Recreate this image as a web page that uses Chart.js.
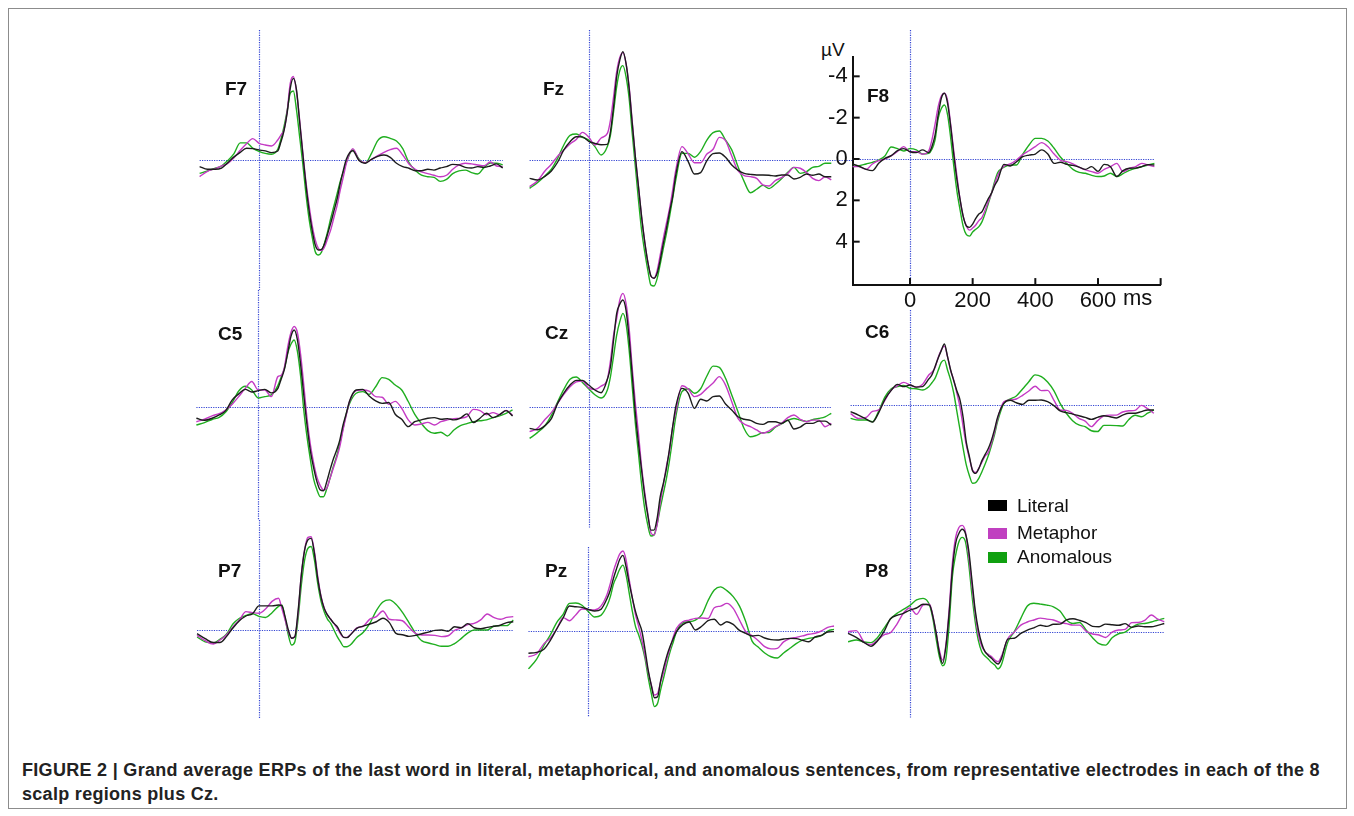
<!DOCTYPE html>
<html>
<head>
<meta charset="utf-8">
<title>Grand average ERPs</title>
<script src="https://cdn.jsdelivr.net/npm/chart.js@4.4.0/dist/chart.umd.min.js"></script>
<style>
  body { margin: 0; background: #fff; font-family: "Liberation Sans", Arial, sans-serif; }
  #page { position: relative; width: 1354px; height: 816px; overflow: hidden; background: #fff; }
  #frame { position: absolute; left: 8px; top: 8px; width: 1339px; height: 801px; box-sizing: border-box; border: 1px solid #8c8c8c; }
  canvas.layer { position: absolute; left: 0; top: 0; pointer-events: none; }
  .elec { position: absolute; font-weight: bold; font-size: 19px; line-height: 19px; color: #111; }
  .unit { position: absolute; left: 821px; top: 40px; font-size: 19px; line-height: 19px; color: #111; }
  .key { position: absolute; width: 19px; height: 11px; left: 988px; }
  .keytext { position: absolute; left: 1017px; font-size: 19px; line-height: 19px; color: #111; }
  #caption { position: absolute; left: 22px; top: 758px; font-size: 18px; letter-spacing: 0.3px; line-height: 24px; font-weight: bold; color: #222; white-space: nowrap; }
</style>
</head>
<body>
<div id="page">
  <div id="frame"></div>
  <div class="unit">µV</div>
  <div id="caption">FIGURE 2 | Grand average ERPs of the last word in literal, metaphorical, and anomalous sentences, from representative electrodes in each of the 8<br>scalp regions plus Cz.</div>
</div>
<script>
// time points (ms) shared by every trace
const times = [-190,-165,-140,-120,-100,-80,-60,-40,-20,0,20,40,
  60,70,80,90,100,110,120,130,140,150,160,170,180,190,200,210,220,230,240,250,260,270,280,
  300,320,340,360,380,400,420,440,460,480,500,520,540,560,580,600,620,640,660,680,700,720,740,760,780];

const conditions = ['Literal', 'Metaphor', 'Anomalous'];
const lineColors = ['#1c1c1c', '#c43ac4', '#1fae1f'];
const keyColors = ['#000000', '#c040c0', '#10a010'];

// amplitudes in µV (negative plotted up)
const f7Literal = [0.32,0.45,0.45,0.39,0.13,-0.15,-0.37,-0.57,-0.55,-0.49,-0.44,-0.36,
  -0.44,-0.87,-1.42,-2.27,-3.48,-3.96,-3.40,-1.86,-0.32,1.17,2.43,3.40,4.13,4.37,4.34,4.05,3.56,3.04,2.46,1.88,1.13,0.49,-0.06,
  -0.45,0.02,0.16,-0.03,-0.18,-0.24,-0.13,0.16,0.32,0.40,0.52,0.52,0.45,0.49,0.39,0.32,0.21,0.24,0.36,0.39,0.32,0.36,0.29,0.19,0.39];
const f7Metaphor = [0.81,0.55,0.42,0.29,0.16,-0.11,-0.47,-0.79,-1.04,-0.81,-0.73,-0.68,
  -0.97,-1.21,-1.46,-2.35,-3.72,-4.05,-3.32,-1.94,-0.40,1.02,2.18,3.16,3.88,4.29,4.40,4.21,3.80,3.37,2.78,2.20,1.46,0.81,0.13,
  -0.55,0.00,0.13,-0.03,-0.21,-0.37,-0.50,-0.57,-0.24,0.19,0.45,0.58,0.66,0.74,0.81,0.74,0.45,0.24,0.16,0.19,0.24,0.28,0.10,0.29,0.32];
const f7Anomalous = [0.65,0.53,0.40,0.29,0.03,-0.31,-0.83,-0.83,-0.58,-0.42,-0.32,-0.28,
  -0.52,-1.00,-1.62,-2.38,-3.24,-3.35,-2.43,-1.13,0.16,1.62,2.83,3.72,4.45,4.61,4.47,4.01,3.45,2.80,2.22,1.63,1.04,0.57,0.10,
  -0.49,-0.05,0.15,-0.32,-0.94,-1.13,-1.05,-0.92,-0.55,0.13,0.50,0.74,0.81,0.84,1.04,0.94,0.66,0.53,0.49,0.61,0.68,0.37,0.15,0.15,0.24];

const fzLiteral = [0.89,0.97,0.78,0.53,0.11,-0.49,-0.89,-1.13,-1.12,-0.91,-0.81,-0.74,
  -0.76,-1.38,-2.59,-4.05,-4.85,-5.26,-4.69,-3.48,-1.78,-0.16,1.29,2.75,3.96,4.94,5.63,5.74,5.50,4.85,4.05,3.32,2.51,1.78,0.73,
  -0.40,0.08,0.68,0.61,0.03,-0.31,-0.34,-0.13,0.24,0.49,0.65,0.70,0.73,0.73,0.74,0.78,0.73,0.73,0.92,0.84,0.68,0.74,0.68,0.81,0.81];
const fzMetaphor = [1.29,1.02,0.52,0.21,-0.19,-0.49,-0.78,-1.00,-1.34,-1.12,-0.73,-1.07,
  -1.29,-1.94,-3.07,-4.29,-4.98,-5.21,-4.69,-3.56,-1.86,-0.16,1.29,2.75,3.96,4.94,5.63,5.74,5.37,4.61,3.80,3.07,2.35,1.46,0.49,
  -0.65,-0.29,0.13,0.13,-0.29,-0.52,-1.10,-0.94,-0.19,0.52,0.76,0.81,0.89,1.21,1.26,1.00,0.86,0.65,0.36,0.40,0.60,0.89,1.00,0.81,0.97];
const fzAnomalous = [1.38,1.10,0.76,0.45,-0.08,-0.73,-1.20,-1.26,-1.10,-0.97,-0.65,-0.24,
  -0.65,-1.21,-2.35,-3.56,-4.34,-4.58,-4.05,-2.99,-1.29,0.32,1.94,3.40,4.45,5.34,6.07,6.12,5.76,5.05,4.29,3.56,2.75,1.86,0.97,
  -0.32,-0.32,-0.13,-0.42,-0.97,-1.33,-1.41,-0.97,-0.49,0.32,1.05,1.59,1.42,1.23,1.39,1.18,0.91,0.60,0.36,0.65,0.57,0.36,0.31,0.16,0.16];

const f8Literal = [0.21,0.34,0.50,0.56,0.21,-0.03,-0.16,-0.40,-0.50,-0.35,-0.31,-0.44,
  -0.31,-0.60,-1.16,-2.13,-2.94,-3.18,-2.69,-1.56,-0.19,1.02,1.98,2.79,3.24,3.31,3.15,2.87,2.66,2.55,2.23,1.92,1.66,1.29,1.02,
  0.26,0.34,0.13,-0.11,-0.19,-0.24,-0.44,-0.24,0.21,0.16,0.26,0.31,0.39,0.50,0.37,0.60,0.26,0.37,0.85,0.56,0.45,0.44,0.37,0.27,0.29];
const f8Metaphor = [0.37,0.37,0.50,0.24,0.08,0.00,-0.15,-0.37,-0.60,-0.35,-0.35,-0.23,
  -0.40,-0.92,-1.69,-2.53,-3.05,-3.18,-2.82,-1.65,-0.35,0.85,1.98,2.79,3.24,3.44,3.34,3.19,2.98,2.82,2.47,2.06,1.66,1.21,0.79,
  0.34,0.24,0.05,-0.21,-0.40,-0.60,-0.79,-0.60,-0.24,0.06,0.13,0.24,0.40,0.53,0.61,0.69,0.50,0.37,0.21,0.61,0.45,0.37,0.21,0.29,0.37];
const f8Anomalous = [0.37,0.34,0.24,0.16,0.05,-0.15,-0.58,-0.50,-0.39,-0.50,-0.44,-0.24,
  -0.27,-0.47,-0.92,-1.97,-2.44,-2.61,-2.13,-1.00,0.37,1.58,2.47,3.27,3.66,3.73,3.53,3.40,3.27,3.03,2.63,2.15,1.66,1.10,0.66,
  0.40,0.29,0.29,-0.23,-0.68,-1.00,-1.00,-0.87,-0.52,-0.10,0.21,0.50,0.65,0.69,0.79,0.85,0.82,0.69,0.85,0.71,0.55,0.45,0.37,0.29,0.21];

const c5Literal = [0.53,0.63,0.52,0.37,0.16,-0.36,-0.65,-0.87,-0.74,-0.81,-0.87,-0.70,
  -0.92,-1.36,-1.84,-2.62,-3.43,-3.75,-3.27,-2.06,-0.52,0.94,2.14,2.95,3.62,4.01,4.05,3.61,3.04,2.52,2.10,1.59,0.86,0.29,-0.31,
  -0.84,-0.87,-0.55,-0.31,-0.19,-0.23,0.34,0.58,0.94,0.70,0.61,0.53,0.50,0.58,0.55,0.61,0.52,0.32,0.74,0.53,0.29,0.50,0.36,0.16,0.42];
const c5Metaphor = [0.70,0.58,0.40,0.31,0.13,-0.15,-0.52,-0.92,-1.25,-0.84,-0.84,-0.52,
  -1.49,-1.55,-1.94,-2.91,-3.62,-3.92,-3.62,-2.54,-1.00,0.61,1.84,2.72,3.40,3.80,4.01,3.92,3.45,2.96,2.48,1.91,1.10,0.37,-0.28,
  -0.81,-0.84,-0.79,-0.52,-0.49,-0.15,-0.29,0.05,0.61,0.86,0.81,0.73,0.86,0.70,0.61,0.55,0.53,0.45,0.10,0.16,0.36,0.26,0.36,0.15,0.39];
const c5Anomalous = [0.86,0.74,0.58,0.49,0.23,-0.23,-0.79,-1.02,-0.84,-0.45,-0.52,-0.60,
  -1.05,-1.46,-1.89,-2.62,-3.06,-3.27,-2.72,-1.49,0.21,1.50,2.56,3.50,4.01,4.34,4.34,3.96,3.45,2.88,2.39,1.75,1.02,0.32,-0.19,
  -0.68,-0.76,-0.63,-1.00,-1.44,-1.36,-1.08,-0.84,-0.28,0.34,0.78,1.13,1.26,1.21,1.39,1.10,0.89,0.79,0.70,0.65,0.61,0.50,0.42,0.29,0.13];

const czLiteral = [1.05,1.12,0.91,0.58,-0.16,-0.66,-1.05,-1.28,-1.28,-1.05,-0.81,-0.68,
  -1.33,-1.94,-3.24,-4.53,-4.98,-5.18,-4.69,-3.32,-1.54,0.32,1.78,3.07,4.29,5.26,5.99,5.99,5.42,4.37,3.72,2.99,2.02,0.97,0.00,
  -0.89,-0.65,0.08,-0.36,-0.28,-0.49,-0.52,-0.13,0.16,0.49,0.61,0.66,0.81,0.86,0.73,0.73,0.81,0.66,1.08,0.99,0.81,0.81,0.70,0.70,0.89];
const czMetaphor = [1.21,1.05,0.61,0.29,-0.16,-0.60,-0.97,-1.20,-1.25,-0.91,-0.84,-1.00,
  -1.34,-2.23,-3.48,-4.29,-5.18,-5.50,-5.02,-3.80,-1.86,-0.16,1.29,2.91,4.13,5.18,6.12,6.23,5.71,4.66,3.80,2.88,2.14,0.97,0.24,
  -1.02,-0.86,-0.49,-0.60,-0.89,-1.15,-1.46,-1.05,-0.24,0.57,0.84,0.97,1.13,1.29,1.17,0.97,0.81,0.53,0.40,0.61,0.73,0.65,0.65,0.97,0.81];
const czAnomalous = [1.54,1.26,0.91,0.42,-0.23,-0.84,-1.33,-1.44,-1.18,-0.87,-0.58,-0.42,
  -0.81,-1.46,-2.46,-3.48,-4.13,-4.53,-4.05,-2.75,-0.97,0.81,2.27,3.75,4.94,5.75,6.28,6.23,5.71,4.92,4.21,3.48,2.59,1.54,0.49,
  -0.73,-0.87,-0.65,-0.87,-1.49,-1.97,-1.91,-1.38,-0.57,0.24,1.07,1.46,1.39,1.26,1.25,1.00,0.83,0.66,0.57,0.65,0.71,0.63,0.57,0.49,0.32];

const c6Literal = [0.32,0.49,0.68,0.83,0.37,-0.28,-0.71,-1.00,-0.89,-0.97,-0.87,-0.89,
  -1.26,-1.46,-1.86,-2.27,-2.64,-2.96,-2.35,-1.70,-1.18,-0.68,-0.24,0.61,1.80,2.51,3.19,3.32,3.09,2.70,2.41,2.12,1.73,1.21,0.60,
  -0.08,-0.23,-0.11,-0.03,-0.23,-0.23,-0.24,-0.16,0.03,0.28,0.37,0.44,0.52,0.60,0.70,0.60,0.52,0.57,0.63,0.49,0.40,0.40,0.32,0.24,0.24];
const c6Metaphor = [0.42,0.65,0.60,0.31,0.24,-0.24,-0.73,-0.94,-1.10,-0.97,-0.87,-1.00,
  -1.46,-1.59,-1.81,-2.31,-2.67,-2.86,-2.35,-1.67,-1.21,-0.57,0.11,1.05,1.94,2.59,3.16,3.28,3.07,2.77,2.48,2.31,1.86,1.33,0.68,
  -0.16,-0.24,-0.29,-0.47,-0.68,-0.91,-0.70,-0.71,-0.24,0.24,0.26,0.40,0.65,0.78,1.05,0.76,0.53,0.49,0.49,0.34,0.28,0.26,0.02,0.18,0.40];
const c6Anomalous = [0.65,0.73,0.73,0.81,0.29,-0.39,-0.79,-0.89,-0.95,-0.81,-0.79,-0.73,
  -0.89,-1.08,-1.29,-1.67,-2.07,-2.18,-1.70,-1.21,-0.57,0.32,1.21,2.10,2.91,3.43,3.80,3.77,3.56,3.24,2.88,2.48,1.99,1.46,0.81,
  -0.08,-0.29,-0.44,-0.78,-1.13,-1.46,-1.38,-1.12,-0.70,-0.08,0.40,0.76,0.97,1.05,1.25,1.29,0.99,0.99,1.00,1.02,0.70,0.50,0.57,0.40,0.24];

const p7Literal = [0.18,0.42,0.61,0.61,0.32,-0.10,-0.45,-0.68,-0.79,-1.17,-1.17,-1.17,
  -1.21,-1.18,-0.65,0.00,0.40,0.32,-0.94,-2.69,-3.88,-4.37,-4.45,-3.72,-2.51,-1.62,-1.05,-0.73,-0.52,-0.32,-0.16,0.13,0.36,0.37,0.24,
  -0.08,-0.19,-0.29,-0.40,-0.57,-0.36,0.16,0.23,0.31,0.26,0.18,0.10,0.02,0.00,0.06,-0.16,-0.11,-0.31,-0.11,-0.06,-0.13,-0.18,-0.23,-0.36,-0.40];
const p7Metaphor = [0.26,0.52,0.68,0.49,0.24,-0.15,-0.49,-0.89,-0.84,-0.81,-1.02,-1.39,
  -1.54,-1.05,-0.49,0.08,0.39,0.32,-0.81,-2.71,-3.91,-4.50,-4.53,-3.80,-2.62,-1.65,-1.07,-0.73,-0.52,-0.31,-0.08,0.19,0.36,0.36,0.23,
  -0.10,-0.19,-0.53,-0.65,-0.92,-0.52,-0.49,-0.45,-0.13,0.16,0.24,0.24,0.26,0.32,0.28,0.02,-0.10,-0.26,-0.32,-0.49,-0.78,-0.61,-0.52,-0.61,-0.65];
const p7Anomalous = [0.34,0.58,0.63,0.45,0.21,-0.29,-0.57,-0.71,-0.79,-0.66,-0.61,-0.84,
  -1.15,-1.21,-0.57,0.24,0.73,0.57,-0.55,-2.20,-3.40,-3.96,-4.05,-3.40,-2.27,-1.42,-0.89,-0.53,-0.32,0.00,0.32,0.58,0.81,0.81,0.73,
  0.36,0.11,-0.32,-0.94,-1.36,-1.46,-1.25,-0.86,-0.36,0.16,0.53,0.63,0.71,0.79,0.79,0.66,0.42,0.15,0.00,0.00,0.00,-0.18,-0.21,-0.21,-0.49];

const pzLiteral = [1.08,1.04,0.87,0.44,-0.11,-0.63,-1.21,-1.18,-1.15,-1.05,-0.97,-1.05,
  -1.59,-1.99,-2.56,-3.04,-3.48,-3.67,-3.12,-2.31,-1.59,-0.94,-0.45,0.00,0.89,1.89,2.64,3.24,3.19,2.38,1.73,1.17,0.73,0.36,0.03,
  -0.31,-0.44,-0.05,-0.23,-0.50,-0.57,-0.29,-0.45,-0.32,-0.03,0.11,0.24,0.21,0.34,0.42,0.44,0.39,0.36,0.37,0.45,0.52,0.29,0.21,0.05,0.03];
const pzMetaphor = [1.25,1.12,0.60,0.34,-0.10,-0.65,-0.50,-0.78,-1.07,-1.04,-1.02,-1.21,
  -1.80,-2.31,-2.91,-3.37,-3.74,-3.88,-3.45,-2.48,-1.59,-0.78,-0.21,0.44,1.17,1.97,2.62,3.11,3.03,2.46,1.97,1.33,0.81,0.28,-0.13,
  -0.45,-0.53,-0.61,-0.63,-0.61,-1.13,-1.21,-1.34,-1.10,-0.53,0.03,0.23,0.47,0.76,0.87,0.84,0.53,0.37,0.31,0.24,0.16,0.11,0.00,-0.18,-0.24];
const pzAnomalous = [1.84,1.39,0.68,0.18,-0.42,-0.81,-1.34,-1.36,-1.25,-0.95,-0.68,-0.76,
  -1.25,-1.67,-2.28,-2.64,-3.01,-3.20,-2.71,-1.83,-0.94,-0.21,0.19,0.68,1.33,2.25,3.03,3.67,3.51,2.83,2.22,1.57,0.99,0.52,0.03,
  -0.40,-0.45,-0.53,-0.78,-1.47,-1.99,-2.14,-1.96,-1.67,-1.21,-0.45,0.49,0.79,1.07,1.25,1.31,1.07,0.84,0.61,0.44,0.36,0.31,0.23,0.00,-0.08];

const p8Literal = [0.08,0.28,0.53,0.71,0.45,0.00,-0.63,-0.79,-0.89,-1.05,-1.15,-1.33,
  -1.29,-0.76,0.05,1.02,1.54,0.73,-0.89,-3.00,-4.29,-4.77,-4.97,-4.77,-3.96,-2.51,-1.05,-0.08,0.57,0.97,1.15,1.29,1.46,1.57,1.33,
  0.36,0.32,0.08,-0.08,-0.19,-0.31,-0.26,-0.36,-0.37,-0.57,-0.63,-0.55,-0.44,-0.26,-0.24,-0.37,-0.34,-0.31,-0.39,-0.21,-0.28,-0.24,-0.24,-0.31,-0.40];
const p8Metaphor = [0.00,-0.05,0.52,0.63,0.42,0.15,0.05,-0.37,-0.91,-1.15,-0.84,-1.29,
  -1.34,-0.79,0.05,0.89,1.38,0.65,-1.05,-3.32,-4.58,-5.06,-5.16,-4.85,-3.72,-2.27,-0.89,0.16,0.70,0.97,1.10,1.21,1.38,1.46,1.21,
  0.34,0.02,-0.32,-0.47,-0.57,-0.66,-0.61,-0.57,-0.45,-0.39,-0.32,-0.32,-0.03,0.11,0.16,0.28,0.02,-0.08,-0.11,-0.44,-0.45,-0.55,-0.81,-0.61,-0.49];
const p8Anomalous = [0.49,0.40,0.50,0.53,0.29,-0.16,-0.61,-0.89,-1.08,-1.28,-1.54,-1.62,
  -1.29,-0.65,0.32,1.21,1.65,1.33,-0.32,-2.67,-3.72,-4.37,-4.58,-4.37,-3.32,-1.78,-0.49,0.45,0.97,1.18,1.33,1.50,1.62,1.81,1.62,
  0.50,0.00,-0.65,-1.25,-1.38,-1.34,-1.29,-1.21,-1.00,-0.57,-0.40,-0.45,-0.08,0.29,0.58,0.65,0.29,0.10,0.02,-0.21,-0.37,-0.40,-0.47,-0.57,-0.65];

// axis ticks of the one labelled panel (F8)
const f8XTicks = [0, 200, 400, 600, 800];
const f8YTicks = [-4, -2, 0, 2, 4];

// where each panel sits on the page: zero-ms x, zero-µV y, px per ms
const panels = [
  { name: 'F7', series: [f7Literal, f7Metaphor, f7Anomalous], x0: 259, msPx: 0.3125, y0: 160, vTop: 30, vBottom: 290, lx: 225, ly: 79 },
  { name: 'Fz', series: [fzLiteral, fzMetaphor, fzAnomalous], x0: 588.7, msPx: 0.311, y0: 160, vTop: 30, vBottom: 296, hRight: 853, lx: 543, ly: 79 },
  { name: 'F8', series: [f8Literal, f8Metaphor, f8Anomalous], x0: 910, msPx: 0.3133, y0: 159, uvPx: 20.67, vTop: 30, vBottom: 285, hRight: 1155, axes: true, lx: 867, ly: 86 },
  { name: 'C5', series: [c5Literal, c5Metaphor, c5Anomalous], x0: 258.3, msPx: 0.326, y0: 407.3, vTop: 290, vBottom: 520, lx: 218, ly: 324 },
  { name: 'Cz', series: [czLiteral, czMetaphor, czAnomalous], x0: 588.7, msPx: 0.311, y0: 406.7, vTop: 296, vBottom: 528, lx: 545, ly: 323 },
  { name: 'C6', series: [c6Literal, c6Metaphor, c6Anomalous], x0: 910, msPx: 0.3127, y0: 405, vTop: 310, vBottom: 510, lx: 865, ly: 322 },
  { name: 'P7', series: [p7Literal, p7Metaphor, p7Anomalous], x0: 259, msPx: 0.326, y0: 630, vTop: 520, vBottom: 718, lx: 218, ly: 561 },
  { name: 'Pz', series: [pzLiteral, pzMetaphor, pzAnomalous], x0: 588.3, msPx: 0.315, y0: 631, vTop: 547, vBottom: 717, lx: 545, ly: 561 },
  { name: 'P8', series: [p8Literal, p8Metaphor, p8Anomalous], x0: 910, msPx: 0.326, y0: 631.7, vTop: 510, vBottom: 718, lx: 865, ly: 561 }
];

const refColor = '#3546d4';
const axisColor = '#111';
const tickFont = { family: '"Liberation Sans", Arial, sans-serif', size: 22 };
const page = document.getElementById('page');

// dotted zero lines (time 0 and 0 µV)
function refLines(p) {
  return {
    id: 'refLines' + p.name,
    beforeDatasetsDraw(chart) {
      const { ctx, chartArea, scales } = chart;
      ctx.save();
      ctx.strokeStyle = refColor;
      ctx.lineWidth = 1.2;
      ctx.setLineDash([1.2, 1.2]);
      const px = Math.round(scales.x.getPixelForValue(0)) + 0.5;
      ctx.beginPath();
      ctx.moveTo(px, p.vTop);
      ctx.lineTo(px, p.vBottom);
      ctx.stroke();
      const py = Math.round(scales.y.getPixelForValue(0)) + 0.5;
      ctx.beginPath();
      ctx.moveTo(p.hLeft || chartArea.left, py);
      ctx.lineTo(p.hRight || chartArea.right, py);
      ctx.stroke();
      ctx.restore();
    }
  };
}

// inward ticks and the "ms" unit on the F8 axes
const f8Extras = {
  id: 'f8Extras',
  afterDraw(chart) {
    const { ctx, chartArea, scales } = chart;
    ctx.save();
    ctx.strokeStyle = axisColor;
    ctx.lineWidth = 2;
    f8XTicks.forEach(v => {
      const px = scales.x.getPixelForValue(v);
      ctx.beginPath();
      ctx.moveTo(px, chartArea.bottom);
      ctx.lineTo(px, chartArea.bottom - 7);
      ctx.stroke();
    });
    f8YTicks.forEach(v => {
      const py = scales.y.getPixelForValue(v);
      ctx.beginPath();
      ctx.moveTo(chartArea.left, py);
      ctx.lineTo(chartArea.left + 7, py);
      ctx.stroke();
    });
    ctx.fillStyle = axisColor;
    ctx.font = tickFont.size + 'px ' + tickFont.family;
    ctx.textAlign = 'left';
    ctx.textBaseline = 'top';
    ctx.fillText('ms', scales.x.getPixelForValue(600) + 25, scales.x.top + 3);
    ctx.restore();
  }
};

panels.forEach(p => {
  const canvas = document.createElement('canvas');
  canvas.width = 1354;
  canvas.height = 816;
  canvas.className = 'layer';
  page.appendChild(canvas);

  const uvPx = p.uvPx || 20.6;
  const xMin = p.axes ? -183 : -190;
  const xMax = p.axes ? 800 : 780;
  const yMin = p.axes ? -4.93 : -6.5;
  const yMax = p.axes ? 6.1 : 6.5;
  const left = p.x0 + xMin * p.msPx;
  const right = p.x0 + xMax * p.msPx;
  const top = p.y0 + yMin * uvPx;
  const bottom = p.y0 + yMax * uvPx;
  const yAxisW = 50, xAxisH = 35;
  const padding = p.axes
    ? { left: left - yAxisW, right: 1354 - right, top: top, bottom: 816 - bottom - xAxisH }
    : { left: left, right: 1354 - right, top: top, bottom: 816 - bottom };

  const xScale = {
    type: 'linear', min: xMin, max: xMax, display: false
  };
  const yScale = {
    type: 'linear', min: yMin, max: yMax, reverse: true, display: false
  };
  if (p.axes) {
    Object.assign(xScale, {
      display: true,
      grid: { display: false, drawTicks: false },
      border: { display: true, color: axisColor, width: 2 },
      afterBuildTicks: axis => { axis.ticks = f8XTicks.map(v => ({ value: v })); },
      afterFit: axis => { axis.height = xAxisH; },
      ticks: {
        autoSkip: false, maxRotation: 0, padding: 3, color: axisColor, font: tickFont,
        callback: v => (v === 800 ? '' : String(v))
      }
    });
    Object.assign(yScale, {
      display: true,
      grid: { display: false, drawTicks: false },
      border: { display: true, color: axisColor, width: 2 },
      afterBuildTicks: axis => { axis.ticks = f8YTicks.map(v => ({ value: v })); },
      afterFit: axis => { axis.width = yAxisW; },
      ticks: { autoSkip: false, padding: 5, color: axisColor, font: tickFont, callback: v => String(v) }
    });
  }

  new Chart(canvas.getContext('2d'), {
    type: 'line',
    data: {
      datasets: conditions.map((c, i) => ({
        label: c,
        data: times.map((t, k) => ({ x: t, y: p.series[i][k] })),
        borderColor: lineColors[i],
        borderWidth: 1.4,
        pointRadius: 0,
        cubicInterpolationMode: 'monotone',
        clip: p.axes ? undefined : false
      }))
    },
    options: {
      responsive: false,
      animation: false,
      devicePixelRatio: 1,
      events: [],
      layout: { padding: padding },
      plugins: { legend: { display: false }, tooltip: { enabled: false } },
      scales: { x: xScale, y: yScale }
    },
    plugins: p.axes ? [refLines(p), f8Extras] : [refLines(p)]
  });

  const lab = document.createElement('div');
  lab.className = 'elec';
  lab.style.left = p.lx + 'px';
  lab.style.top = p.ly + 'px';
  lab.textContent = p.name;
  page.appendChild(lab);
});

// legend
const keyTops = [500, 528, 552];
const keyTextTops = [496, 523, 547];
conditions.forEach((c, i) => {
  const box = document.createElement('div');
  box.className = 'key';
  box.style.top = keyTops[i] + 'px';
  box.style.background = keyColors[i];
  page.appendChild(box);
  const txt = document.createElement('div');
  txt.className = 'keytext';
  txt.style.top = keyTextTops[i] + 'px';
  txt.textContent = c;
  page.appendChild(txt);
});
</script>
</body>
</html>
